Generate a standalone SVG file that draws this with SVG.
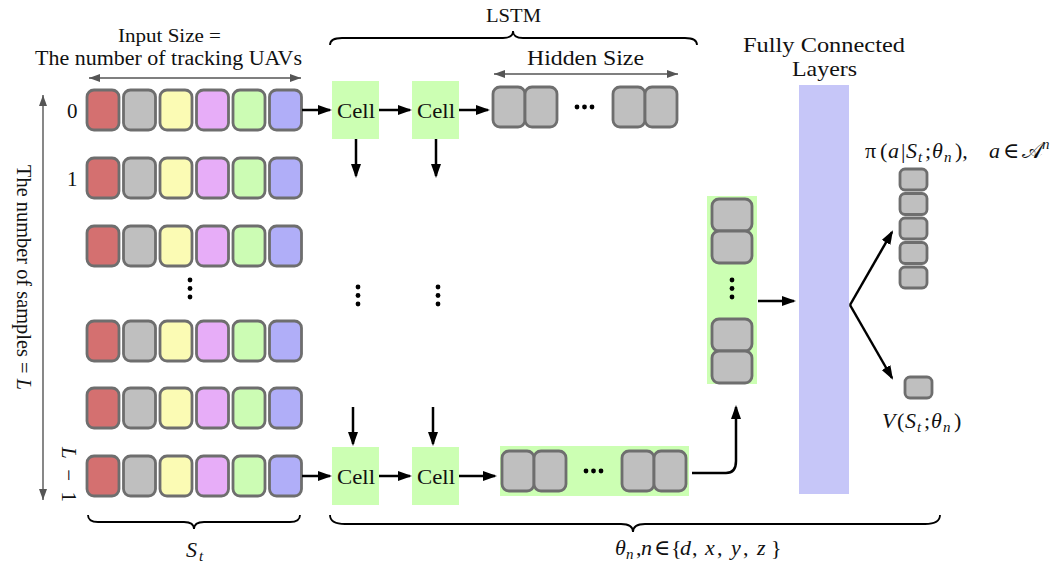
<svg xmlns="http://www.w3.org/2000/svg" width="1060" height="565" viewBox="0 0 1060 565" font-family="'Liberation Serif', 'DejaVu Serif', serif">
<defs>
<style>
text{font-family:'Liberation Serif','DejaVu Serif',serif;}
.t{fill:#111;}
.i{font-style:italic;}
.b{stroke:#6e6e6e;stroke-width:2.8;}
.r{fill:#d47070;}.g{fill:#bfbfbf;}.y{fill:#fbfbb4;}.p{fill:#e7adf8;}.gr{fill:#ccfcb4;}.bl{fill:#b0aef8;}
.cell{fill:#ccffb3;}
.fc{fill:#c6c6f8;}
.ar{stroke:#000;stroke-width:2.5;fill:none;}
.ga{stroke:#555;stroke-width:1.4;fill:none;}
.br{stroke:#000;stroke-width:1.8;fill:none;}
.m{font-size:22px;}
.s{font-size:15px;font-style:italic;}
</style>
<marker id="ah" viewBox="0 0 14 10" refX="12" refY="5" markerWidth="14" markerHeight="10" markerUnits="userSpaceOnUse" orient="auto"><path d="M0,0 L14,5 L0,10 z" fill="#000"/></marker>
<marker id="gh" viewBox="0 0 11 8" refX="11" refY="4" markerWidth="11" markerHeight="8" markerUnits="userSpaceOnUse" orient="auto-start-reverse"><path d="M0,0 L11,4 L0,8 z" fill="#555"/></marker>
<g id="row">
<rect class="b r" x="87" y="0" width="32" height="40" rx="7"/>
<rect class="b g" x="123.5" y="0" width="32" height="40" rx="7"/>
<rect class="b y" x="160" y="0" width="32" height="40" rx="7"/>
<rect class="b p" x="196.5" y="0" width="32" height="40" rx="7"/>
<rect class="b gr" x="233" y="0" width="32" height="40" rx="7"/>
<rect class="b bl" x="269.5" y="0" width="32" height="40" rx="7"/>
</g>
</defs>
<rect width="1060" height="565" fill="#fff"/>

<!-- labels -->
<g id="labels">
<text class="t" x="118" y="42" font-size="19" textLength="103" lengthAdjust="spacingAndGlyphs">Input Size =</text>
<text class="t" x="35" y="65" font-size="20" textLength="267" lengthAdjust="spacingAndGlyphs">The number of tracking UAVs</text>
<text class="t" x="486" y="22" font-size="18" textLength="55" lengthAdjust="spacingAndGlyphs">LSTM</text>
<text class="t" x="527" y="65" font-size="22" textLength="117" lengthAdjust="spacingAndGlyphs">Hidden Size</text>
<text class="t" x="743" y="52" font-size="21" textLength="162" lengthAdjust="spacingAndGlyphs">Fully Connected</text>
<text class="t" x="792" y="76" font-size="21" textLength="65" lengthAdjust="spacingAndGlyphs">Layers</text>
<text class="t" x="67" y="118" font-size="21">0</text>
<text class="t" x="67" y="186" font-size="21">1</text>
<text class="t" font-size="21" transform="translate(62,447) rotate(90)" textLength="55" lengthAdjust="spacing"><tspan class="i">L</tspan> − 1</text>
<text class="t" font-size="21" transform="translate(17,165) rotate(90)" textLength="225" lengthAdjust="spacingAndGlyphs">The number of samples = <tspan class="i">L</tspan></text>
<text class="t m" y="557"><tspan class="i" x="186">S</tspan><tspan class="s" x="199" dy="4">t</tspan></text>
<text class="t m" y="555"><tspan class="i" x="615">θ</tspan><tspan class="s" x="626" dy="4">n</tspan><tspan x="636" dy="-4">,</tspan><tspan class="i" x="641">n</tspan><tspan x="654">∈</tspan><tspan x="671">{</tspan><tspan class="i" x="680">d</tspan><tspan x="692">,</tspan><tspan class="i" x="705">x</tspan><tspan x="717">,</tspan><tspan class="i" x="731">y</tspan><tspan x="743">,</tspan><tspan class="i" x="757">z</tspan><tspan x="771">}</tspan></text>
<text class="t m" y="158"><tspan x="865">π</tspan><tspan x="880">(</tspan><tspan class="i" x="888">a</tspan><tspan x="901">|</tspan><tspan class="i" x="906">S</tspan><tspan class="s" x="918" dy="4">t</tspan><tspan x="925" dy="-4">;</tspan><tspan class="i" x="932">θ</tspan><tspan class="s" x="944" dy="4">n</tspan><tspan x="955" dy="-4">),</tspan><tspan class="i" x="989">a</tspan><tspan x="1003">∈</tspan><tspan x="1022">𝒜</tspan><tspan class="s" x="1042" dy="-9">n</tspan></text>
<text class="t m" y="428"><tspan class="i" x="882">V</tspan><tspan x="897">(</tspan><tspan class="i" x="905">S</tspan><tspan class="s" x="917" dy="4">t</tspan><tspan x="924" dy="-4">;</tspan><tspan class="i" x="931">θ</tspan><tspan class="s" x="943" dy="4">n</tspan><tspan x="954" dy="-4">)</tspan></text>
</g>

<!-- input rows -->
<g id="row0"><use href="#row" y="90"/></g>
<g id="row1"><use href="#row" y="158"/></g>
<g id="row2"><use href="#row" y="226"/></g>
<g id="row3"><use href="#row" y="321"/></g>
<g id="row4"><use href="#row" y="388"/></g>
<g id="row5"><use href="#row" y="456"/></g>
<g id="dots-input" fill="#000"><circle cx="190" cy="280" r="2.4"/><circle cx="190" cy="288.5" r="2.4"/><circle cx="190" cy="297" r="2.4"/></g>

<!-- cells -->
<g id="cell-top-1"><rect class="cell" x="332" y="81" width="47" height="58"/><text class="t" x="337" y="118" font-size="22" textLength="38" lengthAdjust="spacingAndGlyphs">Cell</text></g>
<g id="cell-top-2"><rect class="cell" x="412" y="81" width="47" height="58"/><text class="t" x="417" y="118" font-size="22" textLength="38" lengthAdjust="spacingAndGlyphs">Cell</text></g>
<g id="cell-bot-1"><rect class="cell" x="332" y="447" width="47" height="58"/><text class="t" x="337" y="484" font-size="22" textLength="38" lengthAdjust="spacingAndGlyphs">Cell</text></g>
<g id="cell-bot-2"><rect class="cell" x="412" y="447" width="47" height="58"/><text class="t" x="417" y="484" font-size="22" textLength="38" lengthAdjust="spacingAndGlyphs">Cell</text></g>
<g id="dots-cells" fill="#000">
<circle cx="358" cy="287" r="2.4"/><circle cx="358" cy="295.5" r="2.4"/><circle cx="358" cy="304" r="2.4"/>
<circle cx="438" cy="287" r="2.4"/><circle cx="438" cy="295.5" r="2.4"/><circle cx="438" cy="304" r="2.4"/>
</g>

<!-- hidden top -->
<g id="hidden-top">
<rect class="b g" x="493" y="87" width="32" height="40" rx="7"/>
<rect class="b g" x="525" y="87" width="32" height="40" rx="7"/>
<rect class="b g" x="613" y="87" width="32" height="40" rx="7"/>
<rect class="b g" x="645" y="87" width="32" height="40" rx="7"/>
<circle cx="577" cy="107" r="2.4"/><circle cx="584.5" cy="107" r="2.4"/><circle cx="592" cy="107" r="2.4"/>
</g>

<!-- hidden bottom -->
<g id="hidden-bot">
<rect class="cell" x="500" y="446" width="189" height="50"/>
<rect class="b g" x="502" y="451" width="32" height="40" rx="7"/>
<rect class="b g" x="534" y="451" width="32" height="40" rx="7"/>
<rect class="b g" x="622" y="451" width="32" height="40" rx="7"/>
<rect class="b g" x="654" y="451" width="32" height="40" rx="7"/>
<circle cx="586" cy="471" r="2.4"/><circle cx="593.5" cy="471" r="2.4"/><circle cx="601" cy="471" r="2.4"/>
</g>

<!-- green column -->
<g id="hidden-col">
<rect class="cell" x="707" y="196" width="50" height="188"/>
<rect class="b g" x="712" y="199" width="40" height="32" rx="7"/>
<rect class="b g" x="712" y="231" width="40" height="32" rx="7"/>
<rect class="b g" x="712" y="319" width="40" height="32" rx="7"/>
<rect class="b g" x="712" y="351" width="40" height="32" rx="7"/>
<circle cx="732" cy="280" r="2.4"/><circle cx="732" cy="288.5" r="2.4"/><circle cx="732" cy="297" r="2.4"/>
</g>

<!-- fully connected -->
<g id="fc"><rect class="fc" x="799" y="85" width="50" height="409"/></g>

<!-- outputs -->
<g id="policy">
<rect class="b g" x="900" y="169" width="27" height="21" rx="5"/>
<rect class="b g" x="900" y="193.5" width="27" height="21" rx="5"/>
<rect class="b g" x="900" y="218" width="27" height="21" rx="5"/>
<rect class="b g" x="900" y="242.5" width="27" height="21" rx="5"/>
<rect class="b g" x="900" y="267" width="27" height="21" rx="5"/>
</g>
<g id="value"><rect class="b g" x="905" y="377" width="27" height="21" rx="5"/></g>

<!-- connectors -->
<g id="connectors">
<line class="ga" x1="89" y1="78" x2="301" y2="78" marker-start="url(#gh)" marker-end="url(#gh)"/>
<line class="ga" x1="494" y1="74" x2="678" y2="74" marker-start="url(#gh)" marker-end="url(#gh)"/>
<line class="ga" x1="43" y1="95" x2="43" y2="500" marker-start="url(#gh)" marker-end="url(#gh)"/>
<line class="ar" x1="302" y1="110" x2="330" y2="110" marker-end="url(#ah)"/>
<line class="ar" x1="379" y1="110" x2="410" y2="110" marker-end="url(#ah)"/>
<line class="ar" x1="459" y1="110" x2="488" y2="110" marker-end="url(#ah)"/>
<line class="ar" x1="302" y1="476" x2="330" y2="476" marker-end="url(#ah)"/>
<line class="ar" x1="379" y1="476" x2="410" y2="476" marker-end="url(#ah)"/>
<line class="ar" x1="459" y1="476" x2="495" y2="476" marker-end="url(#ah)"/>
<line class="ar" x1="356" y1="139" x2="356" y2="176" marker-end="url(#ah)"/>
<line class="ar" x1="436" y1="139" x2="436" y2="176" marker-end="url(#ah)"/>
<line class="ar" x1="353" y1="407" x2="353" y2="444" marker-end="url(#ah)"/>
<line class="ar" x1="433" y1="407" x2="433" y2="444" marker-end="url(#ah)"/>
<path class="ar" d="M692,473 L726,473 Q736,473 736,461 L736,407" marker-end="url(#ah)"/>
<line class="ar" x1="758" y1="301" x2="794" y2="301" marker-end="url(#ah)"/>
<line class="ar" x1="850" y1="305" x2="892" y2="232" marker-end="url(#ah)"/>
<line class="ar" x1="850" y1="305" x2="892" y2="378" marker-end="url(#ah)"/>
<path class="br" d="M330,45 Q330,38 342,38 L503,38 Q513,38 513,31 Q513,38 523,38 L685,38 Q697,38 697,45"/>
<path class="br" d="M88,515 Q88,522 98,522 L184,522 Q194,522 194,529 Q194,522 204,522 L290,522 Q300,522 300,515"/>
<path class="br" d="M330,515 Q330,524 345,524 L621,524 Q633,524 633,532 Q633,524 645,524 L925,524 Q940,524 940,515"/>
</g>
</svg>
